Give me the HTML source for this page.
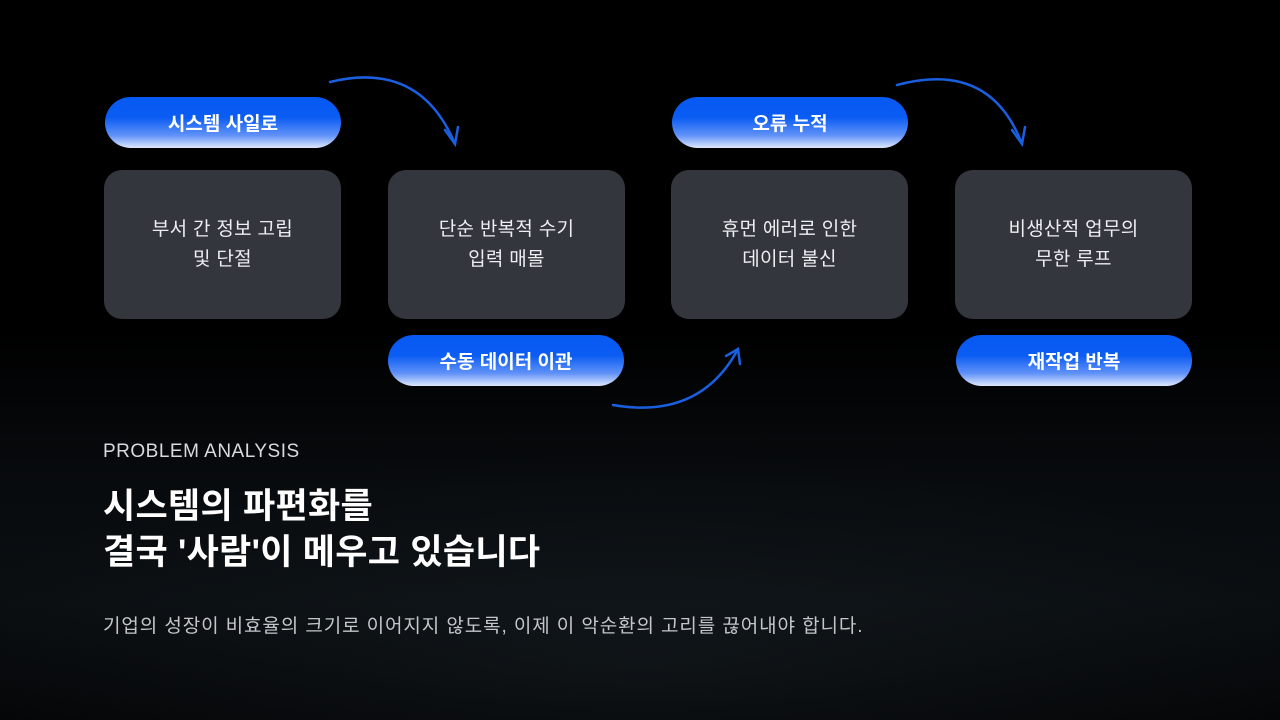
<!DOCTYPE html>
<html><head><meta charset="utf-8"><style>
*{margin:0;padding:0;box-sizing:border-box}
body{width:1280px;height:720px;overflow:hidden;background:#000;font-family:"Liberation Sans","Noto Sans CJK KR",sans-serif;position:relative}
.bg{position:absolute;left:0;top:330px;width:1280px;height:390px;background:radial-gradient(ellipse 900px 260px at 640px 330px,rgba(40,52,60,.25),transparent 80%),linear-gradient(#000,#080b0e 40%,#0a0e11 70%,#040506)}
.box{position:absolute;top:170px;width:237px;height:149px;background:#34363d;border-radius:18px;color:#eceef2;font-size:19px;line-height:30px;text-align:center;display:flex;align-items:center;justify-content:center;letter-spacing:0.3px}
.pill{position:absolute;width:236px;height:51px;border-radius:26px;background:linear-gradient(#0659f2 0%,#0a5cf3 40%,#5f91f8 75%,#dfe8fd 100%);color:#fff;font-weight:bold;font-size:19px;display:flex;align-items:center;justify-content:center}
.t{position:absolute;left:103px;color:#fff}
</style></head><body>
<div class="bg"></div>
<svg width="1280" height="720" style="position:absolute;left:0;top:0">
<g fill="none" stroke="#1a5fe0" stroke-width="2.5" stroke-linecap="round">
<path d="M330 82 Q420 60 455 144"/><path d="M445 130 L455 144 L458 127"/>
<path d="M897 85 Q990 60 1022 144"/><path d="M1012 130 L1022 144 L1025 127"/>
<path d="M613 405 Q700 420 738 349"/><path d="M726 356 L738 349 L740 364"/>
</g></svg>
<div class="pill" style="left:105px;top:97px">시스템 사일로</div>
<div class="pill" style="left:672px;top:97px">오류 누적</div>
<div class="pill" style="left:388px;top:335px">수동 데이터 이관</div>
<div class="pill" style="left:956px;top:335px">재작업 반복</div>
<div class="box" style="left:104px">부서 간 정보 고립<br>및 단절</div>
<div class="box" style="left:388px">단순 반복적 수기<br>입력 매몰</div>
<div class="box" style="left:671px">휴먼 에러로 인한<br>데이터 불신</div>
<div class="box" style="left:955px">비생산적 업무의<br>무한 루프</div>
<div class="t" style="top:441px;font-size:19px;color:#d8dade;letter-spacing:0.5px">PROBLEM ANALYSIS</div>
<div class="t" style="top:484px;font-size:35px;font-weight:bold;line-height:46px;letter-spacing:0.3px">시스템의 파편화를<br>결국 '사람'이 메우고 있습니다</div>
<div class="t" style="top:611px;font-size:19px;color:#c4c6cc;letter-spacing:0.9px">기업의 성장이 비효율의 크기로 이어지지 않도록, 이제 이 악순환의 고리를 끊어내야 합니다.</div>
</body></html>
